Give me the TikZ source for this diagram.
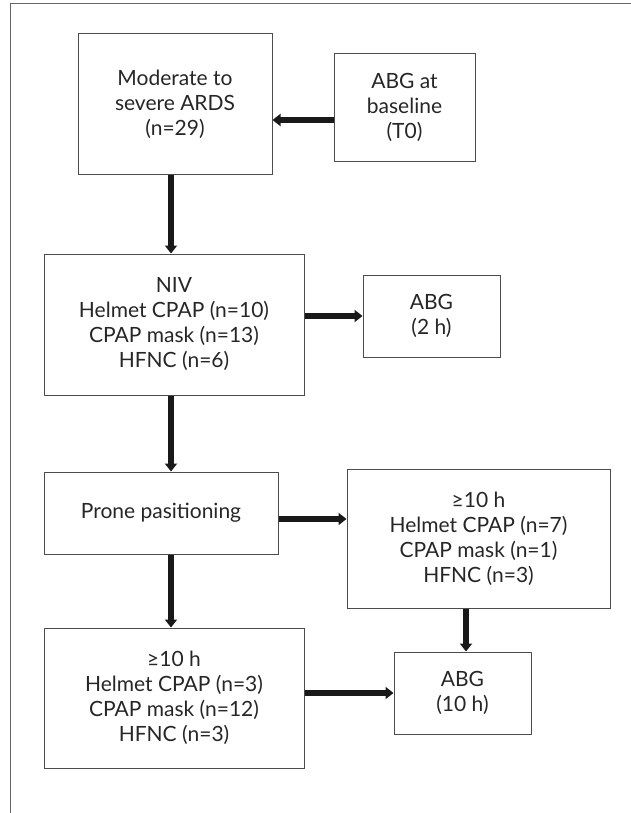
\documentclass[tikz,border=0pt]{standalone}
\usepackage{fontspec}
\setmainfont{Lato}
\usetikzlibrary{arrows.meta}

\tikzset{
  box/.style={draw=black!70,line width=.5pt,inner sep=0pt,align=center,
    text=black!85,font=\fontsize{10.5}{12.5}\selectfont},
  flow/.style={draw=black!90,line width=2.6pt,-{Triangle[length=4pt,width=6pt]}}
}

\begin{document}
\begin{tikzpicture}[x=.5pt,y=-.5pt]
      \useasboundingbox (0,0) rectangle (631,813);
      \draw[black!60,line width=.5pt] (631,4) -- (10,4) -- (10,813);
      \coordinate (spine) at (171,0);
      \node[box,minimum width=97pt,minimum height=70pt] (ards) at (175,104) {Moderate to\\severe ARDS\\(n=29)};
      \node[box,minimum width=70.5pt,minimum height=53.5pt] (abg0) at (404.5,107.5) {ABG at\\baseline\\(T0)};
      \node[box,minimum width=130pt,minimum height=70.5pt] (niv) at (174,324.5) {NIV\\Helmet CPAP (n=10)\\CPAP mask (n=13)\\HFNC (n=6)};
      \node[box,minimum width=68.5pt,minimum height=41pt] (abg2) at (431.5,316) {ABG\\(2 h)};
      \node[box,minimum width=117pt,minimum height=41pt] (prone) at (161,513) {Prone pasitioning};
      \node[box,minimum width=131.5pt,minimum height=69.5pt] (hrs) at (478.5,538.5) {≥10 h\\Helmet CPAP (n=7)\\CPAP mask (n=1)\\HFNC (n=3)};
      \node[box,minimum width=130pt,minimum height=70pt] (rest) at (174,698) {≥10 h\\Helmet CPAP (n=3)\\CPAP mask (n=12)\\HFNC (n=3)};
      \node[box,minimum width=68.5pt,minimum height=41pt] (abg10) at (462.5,693) {ABG\\(10 h)};
      \draw[flow] (abg0.west) ++(0,12.5) coordinate (t0) -- (t0 -| ards.east);
      \draw[flow] (ards.south -| spine) -- (niv.north -| spine);
      \draw[flow] (niv.east |- abg2) -- (abg2.west);
      \draw[flow] (niv.south -| spine) -- (prone.north -| spine);
      \draw[flow] (prone.east) ++(0,6) coordinate (pr) -- (pr -| hrs.west);
      \draw[flow] (prone.south -| spine) -- (rest.north -| spine);
      \draw[flow] (hrs.south -| abg10) ++(3.5,0) coordinate (hr) -- (hr |- abg10.north);
      \draw[flow] (rest.east |- abg10) -- (abg10.west);
    \end{tikzpicture}
\end{document}
